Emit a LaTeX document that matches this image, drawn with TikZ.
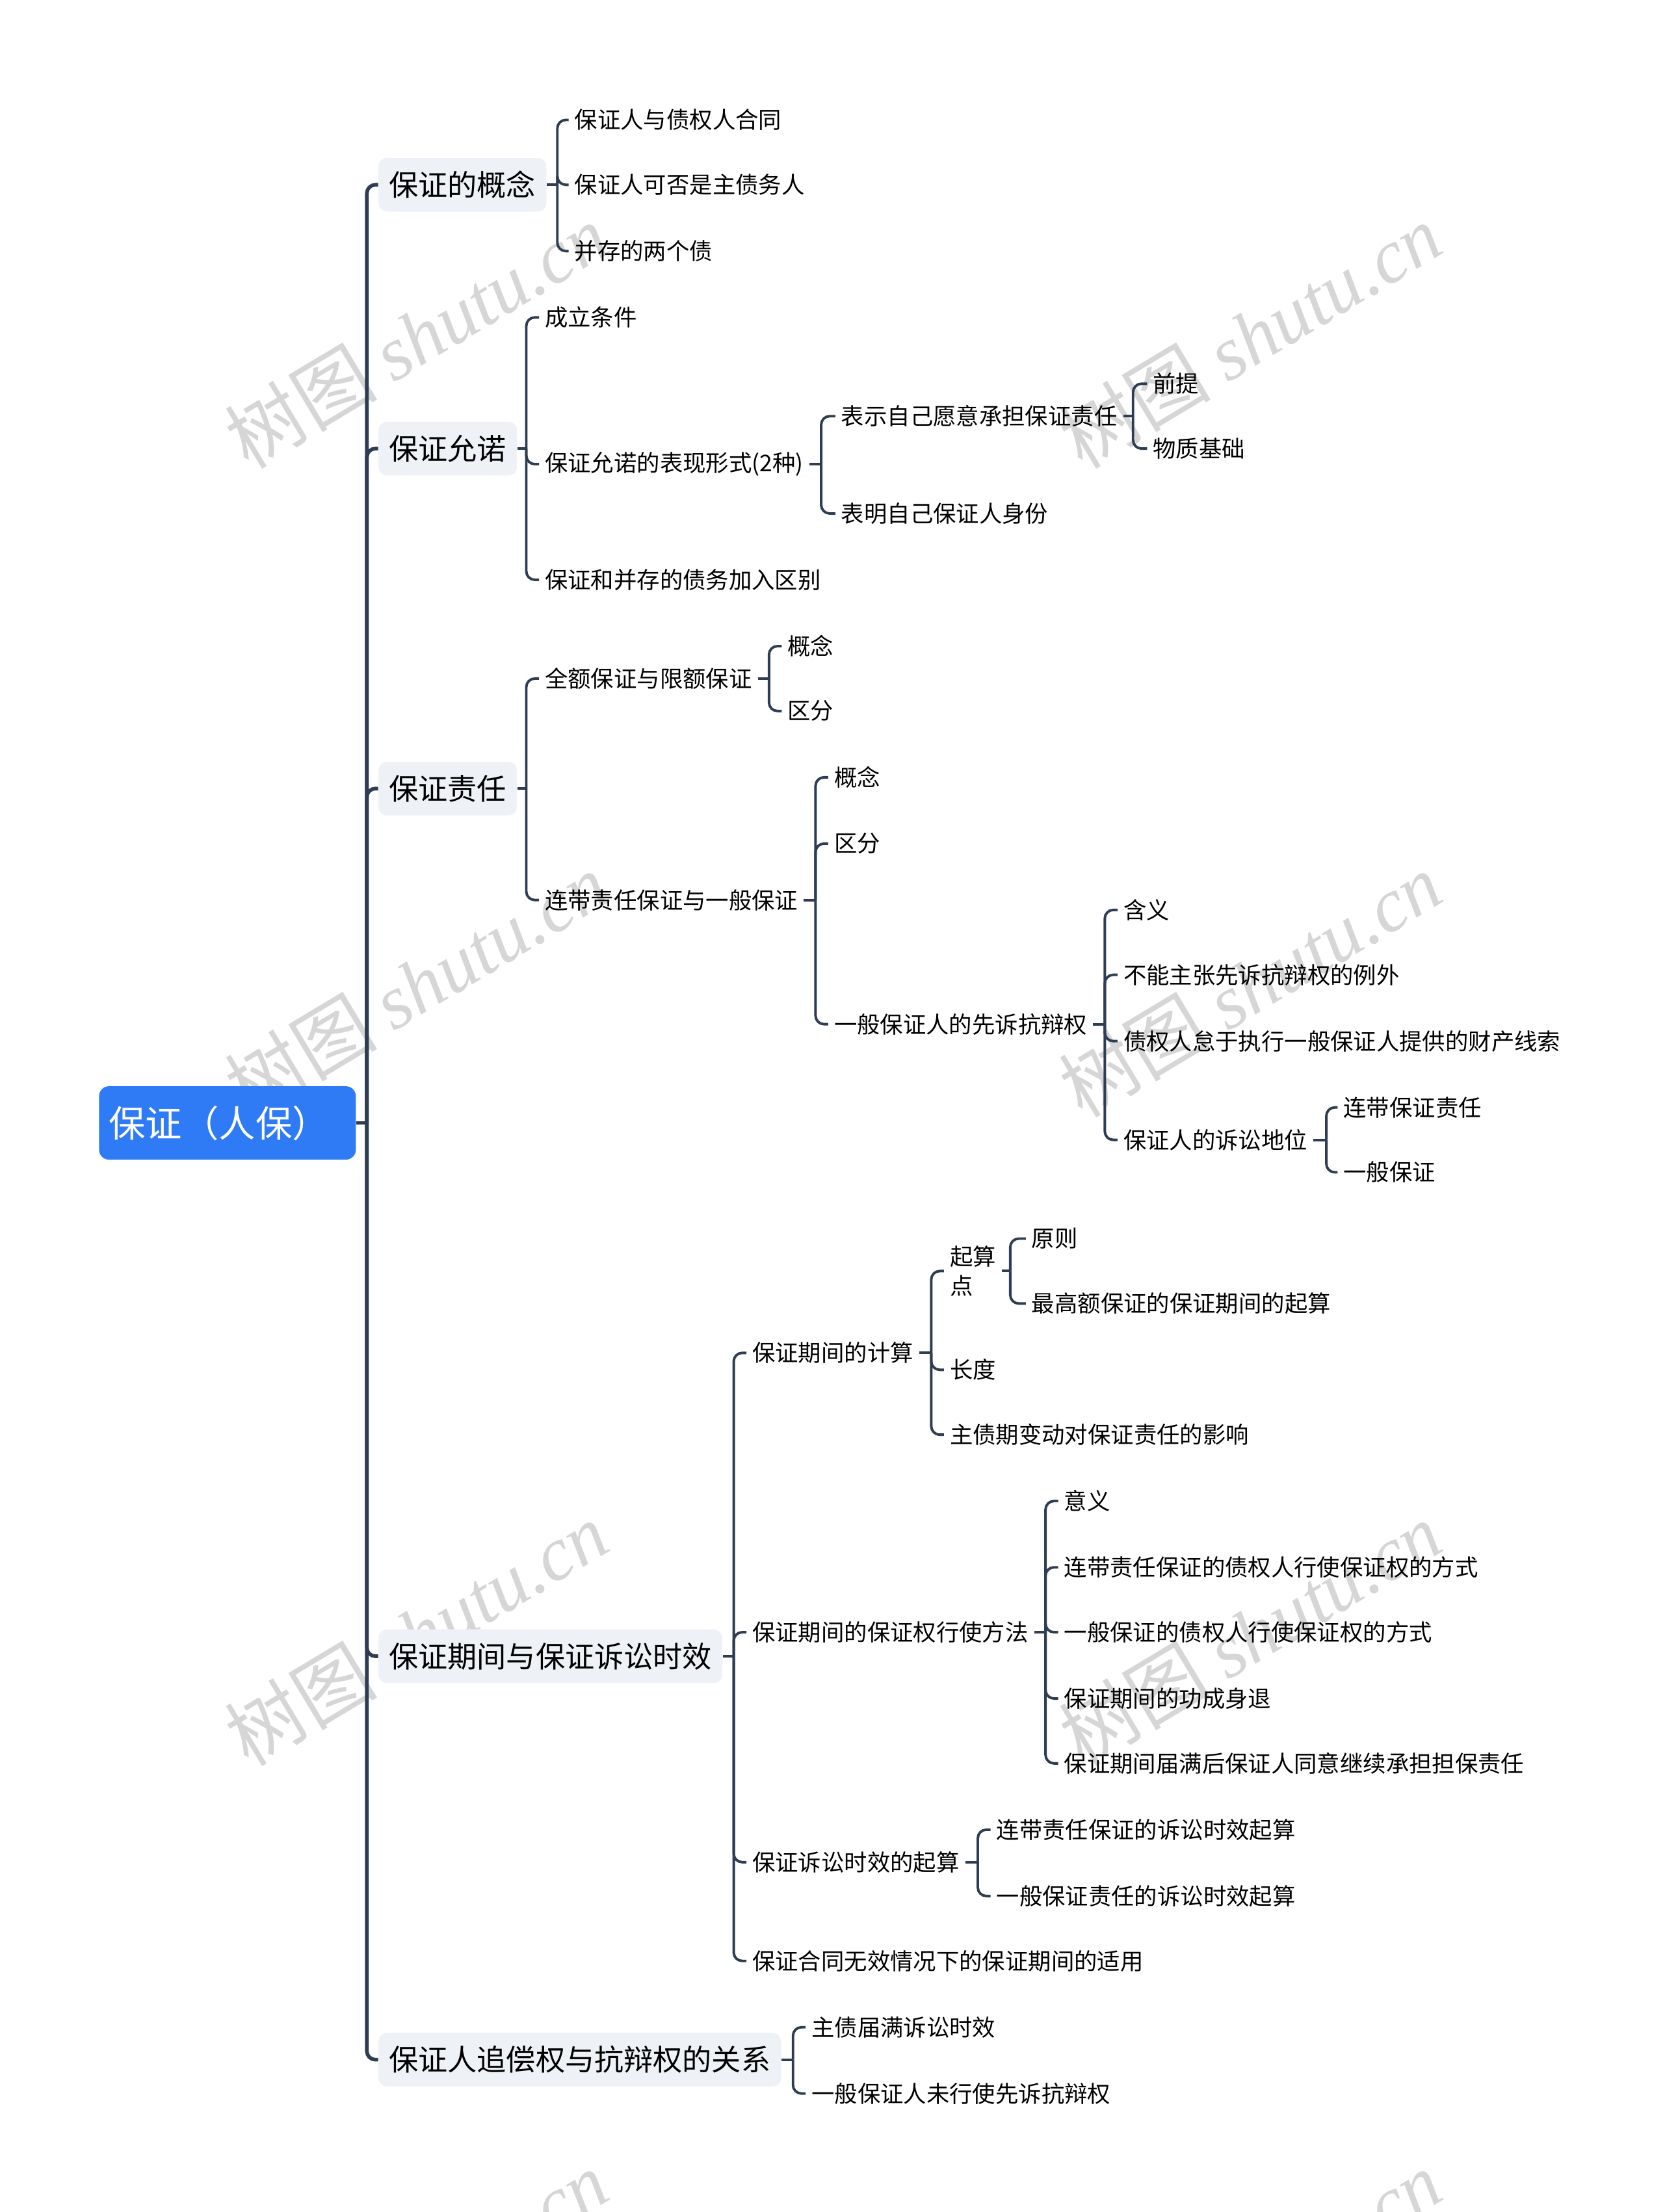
\documentclass[tikz,border=0pt]{standalone}
\usepackage{fontspec}
\setmainfont{Noto Sans CJK SC}
\newfontfamily\wmlatin{Liberation Serif}
\newfontfamily\wmcjk{Noto Sans CJK SC}
\definecolor{linec}{HTML}{2E3D52}
\definecolor{topicbg}{HTML}{EEF1F5}
\definecolor{rootbg}{HTML}{2F7BF5}
\definecolor{wmgray}{HTML}{D6D6D6}
\newcommand{\mmfan}[4][link]{%
  \coordinate (T#2) at (#3,0);
  \draw[#1] (#2.east) -- (#2.east -| T#2);
  \foreach \ch in {#4}{\draw[#1,rounded corners=6pt] (#2.east -| T#2) |- (\ch.west);}
}
\begin{document}
\begin{tikzpicture}[x=1pt,y=-1pt,
  leaf/.style={anchor=west, inner xsep=4pt, inner ysep=2pt, font=\fontsize{16.3}{21}\selectfont, text=black, align=left},
  topic/.style={anchor=west, fill=topicbg, rounded corners=6pt, inner xsep=7.5pt, minimum height=38pt, font=\fontsize{20.8}{24}\selectfont, text=black},
  rootbox/.style={anchor=west, fill=rootbg, rounded corners=7pt, inner xsep=7pt, text width=168pt, align=left, minimum height=52pt, text=white, font=\fontsize{26}{30}\selectfont},
  link/.style={draw=linec, line width=1.8pt},
  mainlink/.style={draw=linec, line width=2.6pt},
  wm/.style={rotate=31, text=wmgray, inner sep=0pt}
]
\useasboundingbox (0,0) rectangle (1180,1568);
% watermarks
\foreach \wx in {295,886}{
  \foreach \wy in {238,698,1158,1618}{
    \node[wm] (wm-\wx-\wy) at (\wx,\wy) {\fontsize{54}{54}\selectfont\wmcjk 树图\hspace{0.22em}\wmlatin\itshape shutu.cn};
  }
}
% root and topics
\node[rootbox] (root) at (70,796) {保证（人保）};
\node[topic] (a) at (268,131) {保证的概念};
\node[topic] (b) at (268,318) {保证允诺};
\node[topic] (c) at (268,559) {保证责任};
\node[topic] (d) at (268,1174) {保证期间与保证诉讼时效};
\node[topic] (e) at (268,1460) {保证人追偿权与抗辩权的关系};
% a
\node[leaf] (a1) at (403,85) {保证人与债权人合同};
\node[leaf] (a2) at (403,131) {保证人可否是主债务人};
\node[leaf] (a3) at (403,178) {并存的两个债};
% b
\node[leaf] (b1) at (382,225) {成立条件};
\node[leaf] (b2) at (382,329) {保证允诺的表现形式(2种)};
\node[leaf] (b3) at (382,411) {保证和并存的债务加入区别};
\node[leaf] (b21) at (592,295) {表示自己愿意承担保证责任};
\node[leaf] (b22) at (592,364) {表明自己保证人身份};
\node[leaf] (b211) at (813,272) {前提};
\node[leaf] (b212) at (813,318) {物质基础};
% c
\node[leaf] (c1) at (382,481) {全额保证与限额保证};
\node[leaf] (c2) at (382,638) {连带责任保证与一般保证};
\node[leaf] (c11) at (554,458) {概念};
\node[leaf] (c12) at (554,504) {区分};
\node[leaf] (c21) at (587,551) {概念};
\node[leaf] (c22) at (587,598) {区分};
\node[leaf] (c23) at (587,726) {一般保证人的先诉抗辩权};
\node[leaf] (c231) at (792,645) {含义};
\node[leaf] (c232) at (792,691) {不能主张先诉抗辩权的例外};
\node[leaf] (c233) at (792,738) {债权人怠于执行一般保证人提供的财产线索};
\node[leaf] (c234) at (792,808) {保证人的诉讼地位};
\node[leaf] (c2341) at (948,785) {连带保证责任};
\node[leaf] (c2342) at (948,831) {一般保证};
% d
\node[leaf] (d1) at (529,959) {保证期间的计算};
\node[leaf] (d2) at (529,1157) {保证期间的保证权行使方法};
\node[leaf] (d3) at (529,1320) {保证诉讼时效的起算};
\node[leaf] (d4) at (529,1390) {保证合同无效情况下的保证期间的适用};
\node[leaf] (d11) at (669,901) {起算\\点};
\node[leaf] (d12) at (669,971) {长度};
\node[leaf] (d13) at (669,1017) {主债期变动对保证责任的影响};
\node[leaf] (d111) at (727,878) {原则};
\node[leaf] (d112) at (727,924) {最高额保证的保证期间的起算};
\node[leaf] (d21) at (750,1064) {意义};
\node[leaf] (d22) at (750,1111) {连带责任保证的债权人行使保证权的方式};
\node[leaf] (d23) at (750,1157) {一般保证的债权人行使保证权的方式};
\node[leaf] (d24) at (750,1204) {保证期间的功成身退};
\node[leaf] (d25) at (750,1250) {保证期间届满后保证人同意继续承担担保责任};
\node[leaf] (d31) at (702,1297) {连带责任保证的诉讼时效起算};
\node[leaf] (d32) at (702,1344) {一般保证责任的诉讼时效起算};
% e
\node[leaf] (e1) at (571,1437) {主债届满诉讼时效};
\node[leaf] (e2) at (571,1484) {一般保证人未行使先诉抗辩权};
% connectors
\mmfan[mainlink]{root}{260}{a,b,c,d,e}
\mmfan{a}{395}{a1,a2,a3}
\mmfan{b}{373}{b1,b2,b3}
\mmfan{b2}{582}{b21,b22}
\mmfan{b21}{803}{b211,b212}
\mmfan{c}{373}{c1,c2}
\mmfan{c1}{545}{c11,c12}
\mmfan{c2}{578}{c21,c22,c23}
\mmfan{c23}{783}{c231,c232,c233,c234}
\mmfan{c234}{940}{c2341,c2342}
\mmfan{d}{520}{d1,d2,d3,d4}
\mmfan{d1}{660}{d11,d12,d13}
\mmfan{d11}{716}{d111,d112}
\mmfan{d2}{741}{d21,d22,d23,d24,d25}
\mmfan{d3}{693}{d31,d32}
\mmfan{e}{562}{e1,e2}
\end{tikzpicture}
\end{document}
